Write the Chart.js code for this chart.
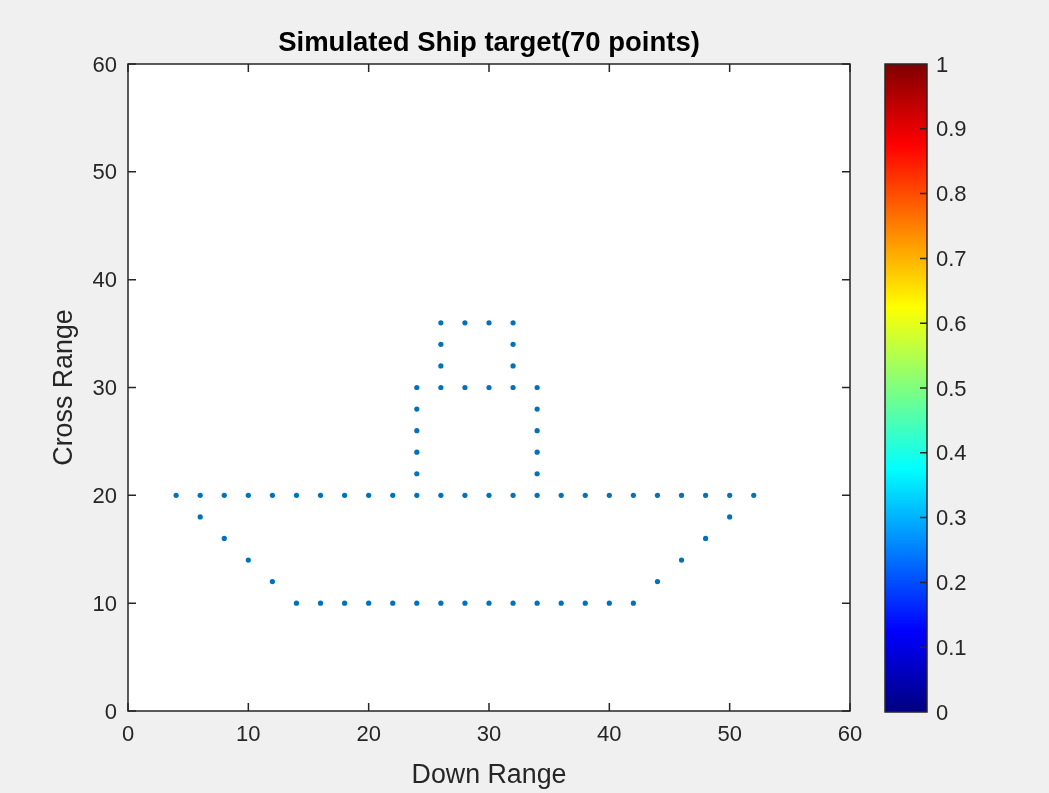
<!DOCTYPE html>
<html>
<head>
<meta charset="utf-8">
<script src="https://cdn.jsdelivr.net/npm/chart.js@4.4.1/dist/chart.umd.min.js"></script>
<style>
  html, body { margin: 0; padding: 0; background: #F0F0F0; }
  #wrap { position: relative; width: 1049px; height: 793px; }
  canvas { position: absolute; left: 0; top: 0; }
</style>
</head>
<body>
<div id="wrap">
  <canvas id="main" width="1049" height="793"></canvas>
  <canvas id="cbar" width="1049" height="793"></canvas>
</div>
<script>
// ---- Data ----
const downRange = [
  // deck row y=20
  4, 6, 8, 10, 12, 14, 16, 18, 20, 22, 24, 26, 28, 30, 32, 34, 36, 38, 40, 42, 44, 46, 48, 50, 52,
  // keel row y=10
  14, 16, 18, 20, 22, 24, 26, 28, 30, 32, 34, 36, 38, 40, 42,
  // bow / stern slants
  6, 8, 10, 12,
  44, 46, 48, 50,
  // superstructure sides
  24, 24, 24, 24, 24,
  34, 34, 34, 34, 34,
  // superstructure top y=30
  26, 28, 30, 32,
  // funnel sides
  26, 26, 26,
  32, 32, 32,
  // funnel top
  28, 30
];
const crossRange = [
  20, 20, 20, 20, 20, 20, 20, 20, 20, 20, 20, 20, 20, 20, 20, 20, 20, 20, 20, 20, 20, 20, 20, 20, 20,
  10, 10, 10, 10, 10, 10, 10, 10, 10, 10, 10, 10, 10, 10, 10,
  18, 16, 14, 12,
  12, 14, 16, 18,
  22, 24, 26, 28, 30,
  22, 24, 26, 28, 30,
  30, 30, 30, 30,
  32, 34, 36,
  32, 34, 36,
  36, 36
];
const axisTicks = [0, 10, 20, 30, 40, 50, 60];
const colorbarTicks = [0, 0.1, 0.2, 0.3, 0.4, 0.5, 0.6, 0.7, 0.8, 0.9, 1];
const jetStops = [0, 0.125, 0.375, 0.625, 0.875, 1];
const jetColors = ['rgb(0,0,128)', 'rgb(0,0,255)', 'rgb(0,255,255)', 'rgb(255,255,0)', 'rgb(255,0,0)', 'rgb(128,0,0)'];

const points = downRange.map((x, i) => ({ x: x, y: crossRange[i] }));

const TXT = '#262626';
const FONT = "'Liberation Sans', Arial, Helvetica, sans-serif";

// ---- Main scatter chart ----
const framePlugin = {
  id: 'frame',
  afterLayout(chart) {
    // center the title over the plot area
    if (chart.titleBlock) {
      chart.titleBlock.left = chart.chartArea.left;
      chart.titleBlock.right = chart.chartArea.right;
      chart.titleBlock.width = chart.chartArea.right - chart.chartArea.left;
    }
  },
  beforeDraw(chart) {
    const { ctx, chartArea: a } = chart;
    ctx.save();
    ctx.fillStyle = '#FFFFFF';
    ctx.fillRect(a.left, a.top, a.right - a.left, a.bottom - a.top);
    ctx.restore();
  },
  afterDraw(chart) {
    const { ctx, chartArea: a, scales } = chart;
    const tl = 8;
    ctx.save();
    ctx.strokeStyle = TXT;
    ctx.lineWidth = 1.5;
    ctx.beginPath();
    axisTicks.forEach(v => {
      const px = scales.x.getPixelForValue(v);
      ctx.moveTo(px, a.bottom); ctx.lineTo(px, a.bottom - tl);
      ctx.moveTo(px, a.top); ctx.lineTo(px, a.top + tl);
      const py = scales.y.getPixelForValue(v);
      ctx.moveTo(a.left, py); ctx.lineTo(a.left + tl, py);
      ctx.moveTo(a.right, py); ctx.lineTo(a.right - tl, py);
    });
    ctx.stroke();
    ctx.strokeRect(a.left, a.top, a.right - a.left, a.bottom - a.top);
    ctx.restore();
  }
};

new Chart(document.getElementById('main'), {
  type: 'scatter',
  data: {
    datasets: [{
      data: points,
      pointRadius: 2.6,
      pointHoverRadius: 2.6,
      pointBackgroundColor: '#0072BD',
      pointBorderWidth: 0,
      showLine: false
    }]
  },
  options: {
    responsive: false,
    animation: false,
    devicePixelRatio: 1,
    layout: { padding: { left: 0, right: 199, top: 0, bottom: 0 } },
    plugins: {
      legend: { display: false },
      tooltip: { enabled: false },
      title: {
        display: true,
        text: 'Simulated Ship target(70 points)',
        color: '#000000',
        font: { family: FONT, size: 27.5, weight: 'bold', lineHeight: 1.2 },
        padding: { top: 27, bottom: 4 }
      }
    },
    scales: {
      x: {
        type: 'linear', min: 0, max: 60,
        afterFit(s) { s.height = 82; },
        afterBuildTicks(s) { s.ticks = axisTicks.map(v => ({ value: v })); },
        grid: { display: false, drawTicks: false },
        border: { display: false },
        ticks: { color: TXT, padding: 11, maxRotation: 0, font: { family: FONT, size: 22 } },
        title: {
          display: true, text: 'Down Range', color: TXT,
          font: { family: FONT, size: 26.8, lineHeight: 1.2 },
          padding: { top: 0, bottom: 1 }
        }
      },
      y: {
        type: 'linear', min: 0, max: 60,
        afterFit(s) { s.width = 128; },
        afterBuildTicks(s) { s.ticks = axisTicks.map(v => ({ value: v })); },
        grid: { display: false, drawTicks: false },
        border: { display: false },
        ticks: { color: TXT, padding: 11, labelOffset: 1.5, font: { family: FONT, size: 22 } },
        title: {
          display: true, text: 'Cross Range', color: TXT,
          font: { family: FONT, size: 26.8, lineHeight: 1.2 },
          padding: { top: 49, bottom: 0 }
        }
      }
    }
  },
  plugins: [framePlugin]
});

// ---- Colorbar chart ----
const cbarPlugin = {
  id: 'cbarFill',
  beforeDatasetsDraw(chart) {
    const { ctx, chartArea: a, scales } = chart;
    const y0 = scales.y.getPixelForValue(0);
    const y1 = scales.y.getPixelForValue(1);
    const g = ctx.createLinearGradient(0, y0, 0, y1);
    jetStops.forEach((s, i) => g.addColorStop(s, jetColors[i]));
    ctx.save();
    ctx.fillStyle = g;
    ctx.fillRect(a.left, a.top, a.right - a.left, a.bottom - a.top);
    ctx.strokeStyle = TXT;
    ctx.lineWidth = 1.5;
    ctx.beginPath();
    colorbarTicks.forEach(v => {
      if (v === 0 || v === 1) return;
      const py = scales.y.getPixelForValue(v);
      ctx.moveTo(a.right, py); ctx.lineTo(a.right - 7, py);
    });
    ctx.stroke();
    ctx.strokeRect(a.left, a.top, a.right - a.left, a.bottom - a.top);
    ctx.restore();
  }
};

new Chart(document.getElementById('cbar'), {
  type: 'scatter',
  data: { datasets: [{ data: [] }] },
  options: {
    responsive: false,
    animation: false,
    devicePixelRatio: 1,
    layout: { padding: { left: 885, right: 62, top: 64, bottom: 81 } },
    plugins: { legend: { display: false }, tooltip: { enabled: false }, title: { display: false } },
    scales: {
      x: { type: 'linear', display: false, min: 0, max: 1 },
      y: {
        type: 'linear', position: 'right', min: 0, max: 1,
        afterFit(s) { s.width = 60; },
        afterBuildTicks(s) { s.ticks = colorbarTicks.map(v => ({ value: v })); },
        grid: { display: false, drawTicks: false },
        border: { display: false },
        ticks: {
          color: TXT, padding: 9, labelOffset: 1.5, font: { family: FONT, size: 22 },
          callback: v => String(Math.round(v * 10) / 10)
        }
      }
    }
  },
  plugins: [cbarPlugin]
});
</script>
</body>
</html>
